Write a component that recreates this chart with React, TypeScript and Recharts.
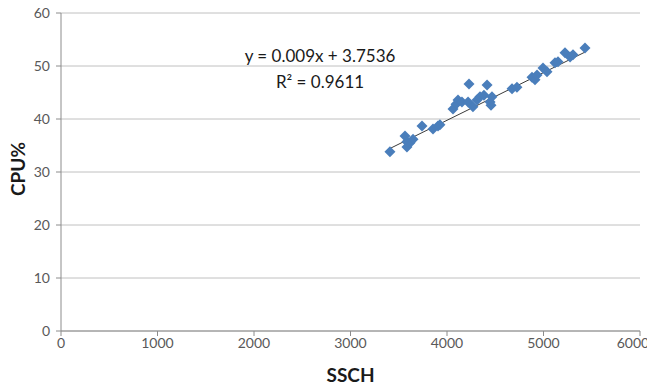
import React from "react";
import {
  ScatterChart,
  Scatter,
  XAxis,
  YAxis,
  CartesianGrid,
  Customized,
} from "recharts";

const ssch = [
  3409, 3565, 3585, 3617, 3585, 3648, 3741, 3855, 3907, 3927, 4062, 4093, 4114,
  4155, 4228, 4218, 4269, 4311, 4342, 4383, 4415, 4446, 4466, 4456, 4674, 4725,
  4881, 4912, 4933, 4995, 5036, 5119, 5150, 5223, 5275, 5306, 5430,
];
const cpu = [
  33.8, 36.8, 34.7, 35.5, 35.7, 36.2, 38.7, 38.1, 38.7, 38.9, 41.9, 42.8, 43.6,
  43.2, 46.6, 43.2, 42.3, 43.6, 44.2, 44.5, 46.4, 43.2, 44.2, 42.6, 45.7, 46.0,
  47.9, 47.4, 48.3, 49.6, 48.9, 50.6, 50.8, 52.5, 51.7, 52.1, 53.4,
];
const xTicks = [0, 1000, 2000, 3000, 4000, 5000, 6000];
const yTicks = [0, 10, 20, 30, 40, 50, 60];
const slope = 0.009;
const intercept = 3.7536;
const equationText = "y = 0.009x + 3.7536";
const r2Text = "R² = 0.9611";

const points = ssch.map((x, i) => ({ x, y: cpu[i] }));
const xMin = Math.min(...ssch);
const xMax = Math.max(...ssch);
const trend = [
  { x: xMin, y: slope * xMin + intercept },
  { x: xMax, y: slope * xMax + intercept },
];

const FONT = "Lato, 'Open Sans', sans-serif";

const Diamond = (props: any) => {
  const { cx, cy } = props;
  if (cx == null || cy == null) return null;
  const r = 5.5;
  return (
    <polygon
      points={`${cx},${cy - r} ${cx + r},${cy} ${cx},${cy + r} ${cx - r},${cy}`}
      fill="#4a7ebb"
    />
  );
};

const Equation = () => (
  <g>
    <text x={320} y={62} textAnchor="middle" fontFamily={FONT} fontSize={17} fill="#1a1a1a">
      {equationText}
    </text>
    <text x={320} y={88} textAnchor="middle" fontFamily={FONT} fontSize={17} fill="#1a1a1a">
      {r2Text}
    </text>
  </g>
);

export default function App() {
  return (
    <div style={{ position: "absolute", left: 0, top: 0, width: 647, height: 388, background: "#fff" }}>
      <ScatterChart
        width={647}
        height={388}
        margin={{ top: 13, right: 7, left: 0, bottom: 0 }}
      >
        <CartesianGrid vertical={false} stroke="#c0c0c0" />
        <XAxis
          type="number"
          dataKey="x"
          domain={[0, 6000]}
          ticks={xTicks}
          height={57}
          stroke="#8c8c8c"
          tickSize={5}
          tick={{ fill: "#595959", fontSize: 14, fontFamily: FONT }}
          label={{
            value: "SSCH",
            position: "insideBottom",
            offset: 6,
            style: { fill: "#1a1a1a", fontSize: 19, fontWeight: 700, fontFamily: FONT },
          }}
        />
        <YAxis
          type="number"
          dataKey="y"
          domain={[0, 60]}
          ticks={yTicks}
          width={61}
          stroke="#8c8c8c"
          tickSize={5}
          tickMargin={6}
          tick={{ fill: "#595959", fontSize: 14, fontFamily: FONT }}
          label={{
            value: "CPU%",
            angle: -90,
            position: "insideLeft",
            offset: 18,
            dy: -3,
            style: { fill: "#1a1a1a", fontSize: 19, fontWeight: 700, fontFamily: FONT, textAnchor: "middle" },
          }}
        />
        <Scatter
          data={trend}
          line={{ stroke: "#3a3a3a", strokeWidth: 1 }}
          shape={() => null}
          isAnimationActive={false}
        />
        <Scatter data={points} shape={<Diamond />} isAnimationActive={false} />
        <Customized component={Equation} />
      </ScatterChart>
    </div>
  );
}
